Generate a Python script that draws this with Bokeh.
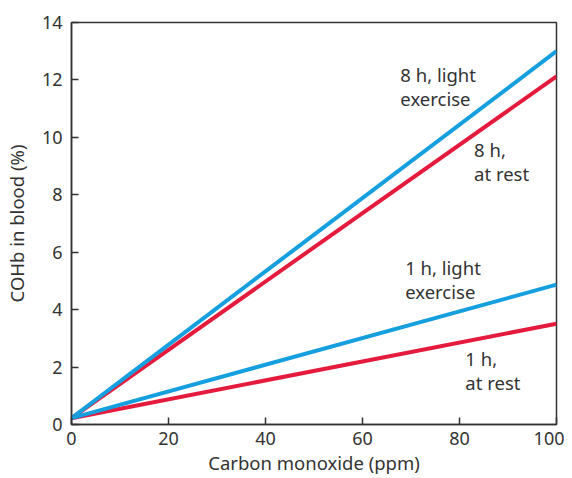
from bokeh.plotting import figure
from bokeh.models import Range1d, FixedTicker, ColumnDataSource
from bokeh.core.properties import value
from bokeh.embed import file_html
from bokeh.resources import INLINE

# Data
co_ppm = [0, 100]
h8_exercise = [0.22, 13.0]
h8_rest = [0.22, 12.12]
h1_exercise = [0.22, 4.87]
h1_rest = [0.22, 3.51]

label_texts = ["8 h, light\nexercise", "8 h,\nat rest", "1 h, light\nexercise", "1 h,\nat rest"]
label_x = [67.8, 83.0, 68.8, 81.2]
label_y = [12.63, 10.0, 5.9, 2.74]

x_ticks = [0, 20, 40, 60, 80, 100]
y_ticks = [0, 2, 4, 6, 8, 10, 12, 14]

BLUE = "#169fdf"
RED = "#e51b3e"
TXT = "#333333"
FONT = "Noto Sans"

p = figure(frame_width=485, frame_height=402, output_backend="svg", toolbar_location=None,
           x_range=Range1d(0, 100), y_range=Range1d(0, 14),
           min_border_left=71, min_border_right=8, min_border_top=22, min_border_bottom=46)

p.xgrid.visible = False
p.ygrid.visible = False
p.outline_line_color = "#333333"
p.outline_line_width = 1.5

for ax in (p.xaxis[0], p.yaxis[0]):
    ax.major_tick_in = 7
    ax.major_tick_out = 0
    ax.minor_tick_line_color = None
    ax.axis_line_color = "#333333"
    ax.axis_line_width = 1.5
    ax.major_tick_line_color = "#333333"
    ax.major_tick_line_width = 1.5
    ax.major_label_text_font = FONT
    ax.major_label_text_font_size = "18px"
    ax.major_label_text_color = TXT
    ax.axis_label_text_font = FONT
    ax.axis_label_text_font_size = "18.5px"
    ax.axis_label_text_font_style = "normal"
    ax.axis_label_text_color = TXT

p.xaxis.ticker = FixedTicker(ticks=x_ticks)
p.yaxis.ticker = FixedTicker(ticks=y_ticks)
p.xaxis.axis_label = "Carbon monoxide (ppm)"
p.yaxis.axis_label = "COHb in blood (%)"
p.xaxis.major_label_standoff = 7
p.yaxis.major_label_standoff = 9
p.xaxis.axis_label_standoff = 2
p.yaxis.axis_label_standoff = 10

p.line(co_ppm, h8_rest, line_color=RED, line_width=4)
p.line(co_ppm, h8_exercise, line_color=BLUE, line_width=4)
p.line(co_ppm, h1_rest, line_color=RED, line_width=4)
p.line(co_ppm, h1_exercise, line_color=BLUE, line_width=4)

src = ColumnDataSource(dict(x=label_x, y=label_y, t=label_texts))
p.text(x="x", y="y", text="t", source=src, text_font=value(FONT), text_font_size="18.5px",
       text_color=TXT, text_align="left", text_baseline="top", text_line_height=0.95)

open("out.html", "w").write(file_html(p, INLINE))
